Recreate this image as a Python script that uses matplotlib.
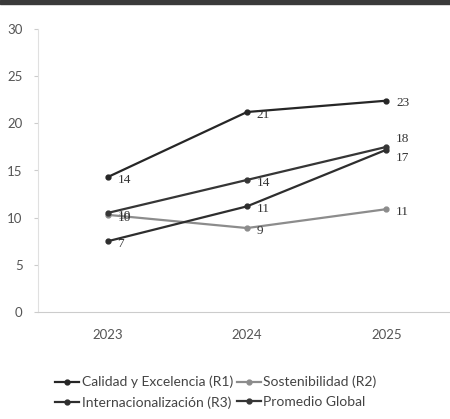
import matplotlib

matplotlib.use("Agg")
import matplotlib.pyplot as plt
from matplotlib.patches import Rectangle

years = ["2023", "2024", "2025"]

calidad = [14.3, 21.2, 22.4]
sostenibilidad = [10.3, 8.9, 10.9]
internacional = [7.5, 11.2, 17.2]
promedio = [10.5, 14.0, 17.5]

calidad_lbl = ["14", "21", "23"]
sostenibilidad_lbl = ["10", "9", "11"]
internacional_lbl = ["7", "11", "17"]
promedio_lbl = ["10", "14", "18"]

series = [
    ("Calidad y Excelencia (R1)", calidad, calidad_lbl, "#262626"),
    ("Sostenibilidad (R2)", sostenibilidad, sostenibilidad_lbl, "#8c8c8c"),
    ("Internacionalización (R3)", internacional, internacional_lbl, "#2e2e2e"),
    ("Promedio Global", promedio, promedio_lbl, "#363636"),
]

plt.rcParams["font.family"] = ["Lato", "DejaVu Sans"]

fig = plt.figure(figsize=(4.5, 4.19), dpi=100)
ax = fig.add_axes([38 / 450, 107 / 419, 418 / 450, 283 / 419])

x = list(range(len(years)))
handles = {}
for name, vals, lbls, color in series:
    (h,) = ax.plot(x, vals, color=color, lw=1.6, marker="o", ms=3.5,
                   label=name, zorder=3)
    handles[name] = h
    for i, (v, t) in enumerate(zip(vals, lbls)):
        dy = -2
        if name == "Promedio Global" and i == 2:
            dy = 6
        elif name.startswith("Internacional") and i == 2:
            dy = -6
        ax.annotate(t, (i, v), xytext=(7, dy), textcoords="offset points",
                    ha="left", va="center", fontsize=9.5, color="#333333",
                    family=["Liberation Serif", "DejaVu Serif"])

ax.set_xlim(-0.5, 2.5)
ax.set_ylim(0, 30)
ax.set_yticks(range(0, 31, 5))
ax.set_xticks(x)
ax.set_xticklabels(years)
ax.tick_params(axis="y", length=3, color="#cccccc", labelsize=9.5,
               labelcolor="#555555", pad=8)
ax.tick_params(axis="x", length=0, labelsize=9.5, labelcolor="#555555", pad=12)
for side in ["top", "right"]:
    ax.spines[side].set_visible(False)
ax.spines["left"].set_color("#e0e0e0")
ax.spines["bottom"].set_color("#cccccc")

order = ["Calidad y Excelencia (R1)", "Internacionalización (R3)",
         "Sostenibilidad (R2)", "Promedio Global"]
fig.legend([handles[n] for n in order], order, ncol=2, frameon=False,
           loc="center", bbox_to_anchor=(0.48, 0.064), fontsize=10,
           handlelength=1.7, handletextpad=0.2, columnspacing=0.3,
           labelspacing=0.55, labelcolor="#444444")

# dark scan border along the top
fig.patches.append(Rectangle((0, 1 - 4 / 419), 1, 4 / 419,
                             transform=fig.transFigure, color="#3a3a3a"))

fig.savefig("out.png", dpi=100)
